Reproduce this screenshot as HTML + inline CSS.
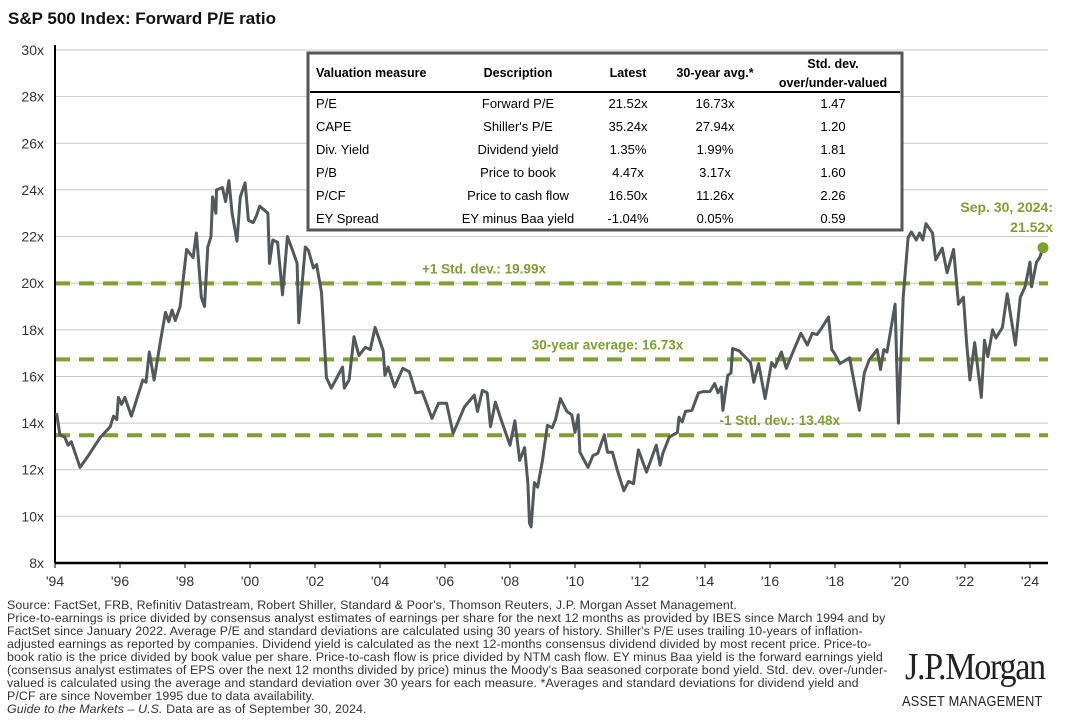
<!DOCTYPE html>
<html><head><meta charset="utf-8"><style>
body{margin:0;width:1072px;height:725px;background:#fff;overflow:hidden;font-family:"Liberation Sans",sans-serif;position:relative}
.t{position:absolute;white-space:nowrap}
#foot{position:absolute;left:7px;top:599px;font-size:12.4px;line-height:13px;color:#333;letter-spacing:0.1px}
#foot div{white-space:nowrap}
</style></head><body>
<div class="t" style="left:8px;top:9px;font-size:17px;font-weight:bold;color:#111">S&amp;P 500 Index: Forward P/E ratio</div>
<svg id="chart" width="1072" height="600" style="position:absolute;left:0;top:0"></svg>
<div id="foot">
<div>Source: FactSet, FRB, Refinitiv Datastream, Robert Shiller, Standard &amp; Poor's, Thomson Reuters, J.P. Morgan Asset Management.</div>
<div>Price-to-earnings is price divided by consensus analyst estimates of earnings per share for the next 12 months as provided by IBES since March 1994 and by</div>
<div>FactSet since January 2022. Average P/E and standard deviations are calculated using 30 years of history. Shiller's P/E uses trailing 10-years of inflation-</div>
<div>adjusted earnings as reported by companies. Dividend yield is calculated as the next 12-months consensus dividend divided by most recent price. Price-to-</div>
<div>book ratio is the price divided by book value per share. Price-to-cash flow is price divided by NTM cash flow. EY minus Baa yield is the forward earnings yield</div>
<div>(consensus analyst estimates of EPS over the next 12 months divided by price) minus the Moody's Baa seasoned corporate bond yield. Std. dev. over-/under-</div>
<div>valued is calculated using the average and standard deviation over 30 years for each measure. *Averages and standard deviations for dividend yield and</div>
<div>P/CF are since November 1995 due to data availability.</div>
<div><i>Guide to the Markets – U.S.</i> Data are as of September 30, 2024.</div>
</div>
<div class="t" style="left:905px;top:645px;font-family:'Liberation Serif',serif;font-size:38px;color:#222;letter-spacing:-1.5px;transform:scaleX(0.9);transform-origin:left">J.P.Morgan</div>
<div class="t" style="left:902px;top:693px;font-size:15px;color:#222;letter-spacing:0.3px;transform:scaleX(0.85);transform-origin:left">ASSET MANAGEMENT</div>
<script>
const yTicks=[8,10,12,14,16,18,20,22,24,26,28,30];
const xTickYears=[1994,1996,1998,2000,2002,2004,2006,2008,2010,2012,2014,2016,2018,2020,2022,2024];
const xTickLabels=["'94","'96","'98","'00","'02","'04","'06","'08","'10","'12","'14","'16","'18","'20","'22","'24"];
const refValues=[19.99,16.73,13.48];
const refLabels=["+1 Std. dev.: 19.99x","30-year average: 16.73x","-1 Std. dev.: 13.48x"];
const refLabelYears=[2007.2,2011.0,2016.3];
const peYears=[1994.05,1994.15,1994.3,1994.4,1994.5,1994.77,1995.0,1995.4,1995.7,1995.8,1995.9,1995.95,1996.05,1996.15,1996.35,1996.7,1996.8,1996.9,1997.05,1997.25,1997.4,1997.5,1997.6,1997.7,1997.85,1998.05,1998.25,1998.35,1998.5,1998.6,1998.7,1998.8,1998.85,1998.95,1998.97,1999.15,1999.25,1999.35,1999.45,1999.6,1999.7,1999.85,1999.95,2000.1,2000.2,2000.3,2000.55,2000.6,2000.7,2000.85,2001.0,2001.15,2001.3,2001.45,2001.5,2001.7,2001.8,2001.95,2002.05,2002.2,2002.35,2002.5,2002.85,2002.9,2003.05,2003.2,2003.35,2003.55,2003.7,2003.85,2004.1,2004.15,2004.25,2004.45,2004.7,2004.9,2005.1,2005.3,2005.6,2005.8,2006.05,2006.25,2006.6,2006.9,2007.0,2007.15,2007.3,2007.4,2007.55,2007.7,2008.0,2008.15,2008.3,2008.45,2008.55,2008.6,2008.65,2008.75,2008.85,2009.0,2009.15,2009.3,2009.4,2009.55,2009.75,2009.9,2010.0,2010.1,2010.15,2010.4,2010.55,2010.7,2010.9,2011.0,2011.15,2011.3,2011.5,2011.65,2011.8,2011.95,2012.2,2012.5,2012.62,2012.7,2012.9,2013.15,2013.2,2013.3,2013.4,2013.6,2013.8,2013.95,2014.15,2014.3,2014.4,2014.5,2014.55,2014.7,2014.8,2014.85,2015.05,2015.4,2015.5,2015.65,2015.85,2016.05,2016.15,2016.35,2016.5,2016.75,2016.95,2017.15,2017.3,2017.45,2017.6,2017.8,2017.9,2018.0,2018.15,2018.45,2018.75,2018.9,2019.05,2019.3,2019.4,2019.5,2019.6,2019.85,2019.95,2020.1,2020.25,2020.35,2020.5,2020.6,2020.7,2020.8,2021.0,2021.1,2021.3,2021.45,2021.65,2021.8,2021.95,2022.05,2022.15,2022.3,2022.5,2022.6,2022.7,2022.85,2022.95,2023.15,2023.3,2023.55,2023.7,2023.85,2024.0,2024.05,2024.2,2024.3,2024.4];
const peValues=[14.43,13.5,13.4,13.05,13.2,12.1,12.55,13.4,13.85,14.3,14.15,15.1,14.8,15.1,14.3,15.85,15.75,17.05,15.85,17.55,18.75,18.35,18.85,18.4,19.0,21.45,21.1,22.15,19.4,19.0,21.55,22.0,23.7,23.0,24.0,24.1,23.5,24.4,23.0,21.8,23.7,24.3,22.7,22.6,22.9,23.3,23.0,20.85,21.85,21.75,19.5,22.0,21.45,20.85,18.3,21.55,21.4,20.65,20.8,19.6,15.95,15.5,16.4,15.5,15.85,17.7,16.9,17.25,17.15,18.1,17.1,16.05,16.4,15.55,16.35,16.2,15.3,15.35,14.2,14.85,14.85,13.55,14.7,15.2,14.5,15.4,15.3,13.85,14.9,14.25,13.05,14.1,12.4,12.95,11.4,9.7,9.55,11.45,11.25,12.4,13.9,13.8,14.15,15.05,14.5,14.35,13.6,14.35,12.75,12.1,12.6,12.7,13.5,12.75,12.75,12.0,11.1,11.5,11.4,12.85,11.9,13.05,12.2,12.7,13.4,13.6,14.25,14.05,14.5,14.55,15.3,15.35,15.35,15.7,15.3,15.55,14.55,16.05,16.15,17.2,17.1,16.6,15.75,16.55,15.05,16.6,16.4,17.05,16.35,17.2,17.85,17.35,17.85,17.8,18.1,18.55,17.15,16.95,16.55,16.8,14.55,16.15,16.7,17.15,16.3,17.15,17.05,19.1,14.0,19.4,21.95,22.2,21.85,22.15,21.85,22.55,22.15,21.0,21.5,20.45,21.45,19.1,19.4,17.45,15.85,17.45,15.1,17.55,16.85,18.0,17.65,18.1,19.55,17.35,19.4,19.85,20.9,19.85,20.9,21.1,21.52];
const latestLabel=["Sep. 30, 2024:","21.52x"];

const svg=document.getElementById('chart');
const NS='http://www.w3.org/2000/svg';
const X0=55,X1=1048,PXY=32.5,Y0=563,Y1=50;
const xs=y=>X0+(y-1994)*PXY;
const ys=v=>Y0-(v-8)/(30-8)*(Y0-Y1);
function mk(tag,attrs,parent){const e=document.createElementNS(NS,tag);for(const k in attrs)e.setAttribute(k,attrs[k]);(parent||svg).appendChild(e);return e;}
yTicks.forEach(v=>{
  if(v>8){const g=mk('line',{x1:X0,x2:X1,y1:ys(v),y2:ys(v),stroke:'#c8c8c8','stroke-width':1});
  
  }
  const t=mk('text',{x:44,y:ys(v)+5,'text-anchor':'end','font-size':14,fill:'#333','font-family':'Liberation Sans'});
  t.textContent=v+'x';
  
  
});
xTickYears.forEach((yr,i)=>{
  const t=mk('text',{x:xs(yr),y:586,'text-anchor':'middle','font-size':14,fill:'#333','font-family':'Liberation Sans'});
  t.textContent=xTickLabels[i];
  
  
  const tk=mk('line',{x1:xs(yr),x2:xs(yr),y1:Y0,y2:Y0+5,stroke:'#000','stroke-width':1});
  
  
});
refValues.forEach((v,i)=>{
  const l=mk('line',{x1:X0,x2:X1,y1:ys(v),y2:ys(v),stroke:'#7f9f2f','stroke-width':4,'stroke-dasharray':'15 9'});
  
  
  const t=mk('text',{x:xs(refLabelYears[i]),y:ys(v)-10,'text-anchor':'middle','font-size':13.5,'font-weight':'bold',fill:'#7f9f2f','font-family':'Liberation Sans'});
  t.textContent=refLabels[i];
  
  
});
const ax=mk('line',{x1:X0,x2:X1,y1:Y0,y2:Y0,stroke:'#000','stroke-width':2.5});


const ay=mk('line',{x1:X0,x2:X0,y1:Y1-5,y2:Y0,stroke:'#000','stroke-width':2});


const pts=peYears.map((y,i)=>xs(y).toFixed(1)+','+ys(peValues[i]).toFixed(1)).join(' ');
const pl=mk('polyline',{points:pts,fill:'none',stroke:'#54585a','stroke-width':3,'stroke-linejoin':'round'});


const n=peYears.length-1;
const dot=mk('circle',{cx:xs(peYears[n]),cy:ys(peValues[n]),r:5.5,fill:'#7f9f2f'});


latestLabel.forEach((s,i)=>{
  const t=mk('text',{x:1053,y:212+i*20,'text-anchor':'end','font-size':14,'font-weight':'bold',fill:'#7f9f2f','font-family':'Liberation Sans'});
  t.textContent=s;
  
  
});
const tbl=mk('g',{});


mk('rect',{x:308,y:53,width:594,height:177,fill:'#fff',stroke:'#555','stroke-width':3},tbl);
mk('line',{x1:310,x2:900,y1:92,y2:92,stroke:'#000','stroke-width':2},tbl);
const rows=[["P/E","Forward P/E","21.52x","16.73x","1.47"],["CAPE","Shiller's P/E","35.24x","27.94x","1.20"],["Div. Yield","Dividend yield","1.35%","1.99%","1.81"],["P/B","Price to book","4.47x","3.17x","1.60"],["P/CF","Price to cash flow","16.50x","11.26x","2.26"],["EY Spread","EY minus Baa yield","-1.04%","0.05%","0.59"]];
const cx=[316,518,628,715,833],anc=['start','middle','middle','middle','middle'];
const hdr=["Valuation measure","Description","Latest","30-year avg.*",""];
hdr.forEach((h,i)=>{if(!h)return;const t=mk('text',{x:cx[i],y:77,'text-anchor':anc[i],'font-size':12.5,'font-weight':'bold',fill:'#000','font-family':'Liberation Sans'},tbl);t.textContent=h;

});
[["Std. dev.",68],["over/under-valued",87]].forEach(a=>{const t=mk('text',{x:833,y:a[1],'text-anchor':'middle','font-size':12.5,'font-weight':'bold',fill:'#000','font-family':'Liberation Sans'},tbl);t.textContent=a[0];

});
rows.forEach((r,ri)=>r.forEach((c,i)=>{const t=mk('text',{x:cx[i],y:108+ri*23,'text-anchor':anc[i],'font-size':13,fill:'#000','font-family':'Liberation Sans'},tbl);t.textContent=c;

}));
</script>
</body></html>
